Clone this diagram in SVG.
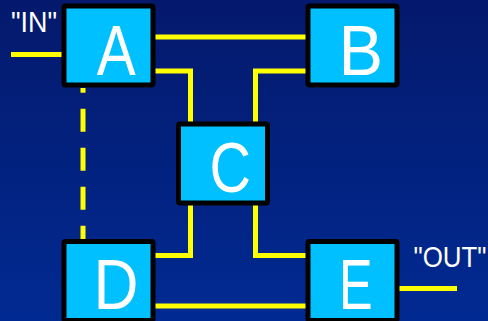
<svg xmlns="http://www.w3.org/2000/svg" width="488" height="321" viewBox="0 0 488 321">
<defs>
<linearGradient id="bg" x1="0" y1="0" x2="0" y2="1">
<stop offset="0" stop-color="#04196c"/>
<stop offset="1" stop-color="#012a92"/>
</linearGradient>
</defs>
<style>
.box{fill:#00c0ff;stroke:#000;stroke-width:5;stroke-linejoin:round}
.wire{fill:none;stroke:#ffff00;stroke-width:5;stroke-linejoin:miter}
.lbl{font-family:"Liberation Sans",Arial,sans-serif;font-size:70px;fill:#fff;text-anchor:middle}
.q{font-family:"Liberation Sans",Arial,sans-serif;font-size:29px;fill:#fff}
</style>
<rect width="488" height="321" fill="url(#bg)"/>
<g id="connectors">
<line class="wire" x1="11" y1="54.5" x2="62" y2="54.5"/>
<line class="wire" x1="155" y1="37" x2="306" y2="37"/>
<polyline class="wire" points="155,71 190.5,71 190.5,122"/>
<polyline class="wire" points="306,71 255.5,71 255.5,122"/>
<polyline class="wire" points="190.5,205 190.5,255.5 155,255.5"/>
<polyline class="wire" points="255.5,205 255.5,255.5 306,255.5"/>
<line class="wire" x1="155" y1="306" x2="306" y2="306"/>
<line class="wire" x1="399" y1="288.5" x2="457" y2="288.5"/>
<line class="wire" x1="83" y1="88" x2="83" y2="239" stroke-dasharray="23 16" stroke-dashoffset="18.3"/>
</g>
<g id="nodeA"><rect class="box" x="64" y="6" width="89" height="79" rx="1.5"/><text class="lbl" transform="translate(116.2,75) scale(0.835,1)">A</text></g>
<g id="nodeB"><rect class="box" x="308" y="6" width="89" height="79" rx="1.5"/><text class="lbl" transform="translate(360.8,75) scale(0.955,1)">B</text></g>
<g id="nodeC"><rect class="box" x="178.5" y="124" width="89" height="79" rx="1.5"/><text class="lbl" transform="translate(230.3,192) scale(0.82,1)">C</text></g>
<g id="nodeD"><rect class="box" x="64" y="241.5" width="89" height="79" rx="1.5"/><text class="lbl" transform="translate(116,309.3) scale(0.89,1)">D</text></g>
<g id="nodeE"><rect class="box" x="308" y="241.5" width="89" height="79" rx="1.5"/><text class="lbl" transform="translate(355.8,309.3) scale(0.72,1)">E</text></g>
<text class="q" x="11" y="32.3" textLength="46" lengthAdjust="spacingAndGlyphs">"IN"</text>
<text class="q" x="413.5" y="266.7" textLength="73" lengthAdjust="spacingAndGlyphs">"OUT"</text>
</svg>
